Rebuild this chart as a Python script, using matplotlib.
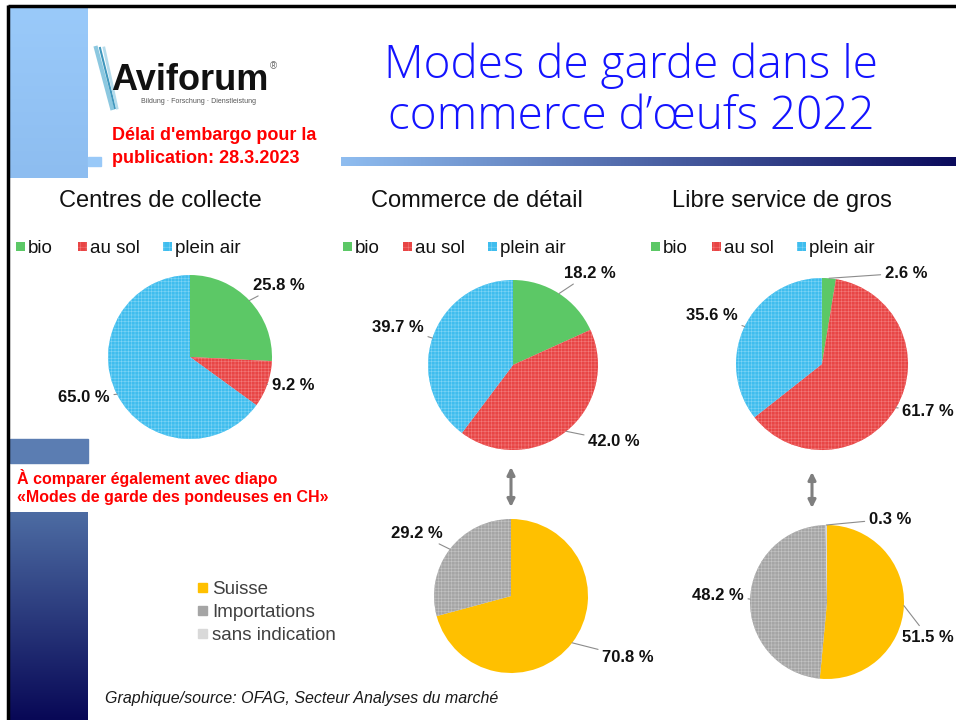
import numpy as np
import matplotlib.pyplot as plt
import matplotlib.colors as mcolors
from matplotlib.patches import Rectangle

plt.rcParams['font.family'] = ['Liberation Sans', 'DejaVu Sans']
plt.rcParams['hatch.linewidth'] = 0.4

# ---- donnees ----
modes = ['bio', 'au sol', 'plein air']
centres_collecte = [25.8, 9.2, 65.0]
commerce_detail = [18.2, 42.0, 39.7]
libre_service_gros = [2.6, 61.7, 35.6]

origines = ['Suisse', 'Importations', 'sans indication']
origine_detail = [70.8, 29.2]
origine_gros = [51.5, 48.2, 0.3]

# ---- couleurs ----
col_modes = ['#5cc866', '#e84545', '#3fbdee']
hatch_modes = [None, '+++++', '+++++']
hcol_modes = [None, '#f27a7a', '#7fd4f5']
col_orig = ['#ffc000', '#a5a5a5', '#d9d9d9']
hatch_orig = [None, '+++++', None]
hcol_orig = [None, '#c4c4c4', None]

W, H = 956, 720
fig = plt.figure(figsize=(9.56, 7.2), dpi=100)
bg = fig.add_axes([0, 0, 1, 1])
bg.axis('off')


def grad(x0, x1, y0, y1, c0, c1, vertical):
    c0 = np.array(mcolors.to_rgb(c0))
    c1 = np.array(mcolors.to_rgb(c1))
    t = np.linspace(0, 1, 256)[:, None]
    cols = c0 + (c1 - c0) * t
    img = cols[:, None, :] if vertical else cols[None, :, :]
    bg.imshow(img, extent=(x0, x1, y1, y0), aspect='auto', interpolation='bilinear', zorder=1)


# bandes decoratives
grad(10, 88, 7, 178, '#9acafa', '#8dbdf0', True)
bg.add_patch(Rectangle((88, 157), 13, 9, color='#99c9f8', zorder=1))
grad(341, 956, 157, 166, '#8fbdf0', '#0b0b5c', False)
bg.add_patch(Rectangle((10, 439), 78, 24, color='#5b7db2', zorder=1))
grad(10, 88, 512, 720, '#4d6ca3', '#080856', True)
# cadre noir
bg.plot([8, 956], [6, 6], color='black', lw=2.5, zorder=3, solid_capstyle='butt')
bg.plot([8.5, 8.5], [5, 720], color='black', lw=2.5, zorder=3, solid_capstyle='butt')

# logo
for (xa, xb, c, lw) in [(96, 112, '#8cc8e0', 3), (100, 115, '#3f97bd', 1.5), (104, 117, '#b5dcec', 2)]:
    bg.plot([xa, xb], [48, 108], color=c, lw=lw, zorder=2)
bg.text(111, 90, 'Aviforum', fontsize=26, fontweight='bold', color='#111111', zorder=3)
bg.text(141, 103, 'Bildung \u00b7 Forschung \u00b7 Dienstleistung', fontsize=5, color='#555555')
bg.text(273, 66, '\u00ae', fontsize=7, color='#666666', ha='center', va='center')

bg.text(112, 140, "Délai d'embargo pour la", fontsize=13, fontweight='bold', color='#ff0000')
bg.text(112, 163, 'publication: 28.3.2023', fontsize=13, fontweight='bold', color='#ff0000')

# titre
bg.text(631, 78, 'Modes de garde dans le', fontsize=33, color='#1414ff', ha='center',
        family=['Open Sans', 'DejaVu Sans'], fontweight='light')
bg.text(631, 129, 'commerce d\u2019œufs 2022', fontsize=33, color='#1414ff', ha='center',
        family=['Open Sans', 'DejaVu Sans'], fontweight='light')

# titres de section et legendes
sections = [('Centres de collecte', 160, [16, 78, 163]),
            ('Commerce de détail', 477, [343, 403, 488]),
            ('Libre service de gros', 782, [651, 712, 797])]
for titre, xc, xs in sections:
    bg.text(xc, 207, titre, fontsize=17, ha='center', color='#111111')
    for x, lab, c, h, hc in zip(xs, modes, col_modes, hatch_modes, hcol_modes):
        sq = Rectangle((x, 242), 9, 9, facecolor=c, edgecolor=hc if hc else c, lw=0, zorder=2)
        if h:
            sq.set_hatch('+++')
        bg.add_patch(sq)
        bg.text(x + 12, 253, lab, fontsize=13.5, color='#111111')

bg.text(17, 484, 'À comparer également avec diapo', fontsize=11.5, fontweight='bold', color='#ff0000')
bg.text(17, 502, '«Modes de garde des pondeuses en CH»', fontsize=11.5, fontweight='bold', color='#ff0000')

for y, lab, c in zip([594, 617, 640], origines, col_orig):
    bg.add_patch(Rectangle((198, y - 11), 9, 9, color=c, zorder=2))
    bg.text(212, y, lab, fontsize=13.5, color='#404040')

bg.text(105, 703, 'Graphique/source: OFAG, Secteur Analyses du marché', fontsize=11.5,
        style='italic', color='#1a1a1a')

# fleches doubles
for x, y0, y1 in [(511, 467, 507), (812, 472, 508)]:
    bg.annotate('', xy=(x, y0), xytext=(x, y1),
                arrowprops=dict(arrowstyle='<|-|>', color='#7f7f7f', lw=2.2, mutation_scale=11,
                                shrinkA=0, shrinkB=0))

bg.set_xlim(0, W)
bg.set_ylim(H, 0)


def draw_pie(cx, cy, r, vals, cols, hatches, hcols, label_pos):
    m = 1.03
    ax = fig.add_axes([(cx - r * m) / W, 1 - (cy + r * m) / H, 2 * r * m / W, 2 * r * m / H])
    wedges, _ = ax.pie(vals, colors=cols, startangle=90, counterclock=False, radius=1,
                       wedgeprops=dict(linewidth=0))
    ax.set_xlim(-m, m)
    ax.set_ylim(-m, m)
    ax.set_aspect('equal')
    ax.axis('off')
    for w, h, hc in zip(wedges, hatches, hcols):
        if h:
            w.set_edgecolor(hc)
            w.set_linewidth(0)
            w.set_hatch(h)
    for w, v, (tx, ty, ha) in zip(wedges, vals, label_pos):
        a = np.deg2rad((w.theta1 + w.theta2) / 2)
        ax.annotate(f'{v:.1f} %', xy=(np.cos(a), np.sin(a)), xytext=(tx, ty),
                    textcoords=bg.transData, ha=ha, va='center',
                    fontsize=12, fontweight='bold', color='#111111',
                    arrowprops=dict(arrowstyle='-', color='#8c8c8c', lw=0.8, shrinkA=1, shrinkB=0),
                    annotation_clip=False)


draw_pie(190, 357, 82, centres_collecte, col_modes, hatch_modes, hcol_modes,
         [(279, 285, 'center'), (293, 385, 'center'), (84, 398, 'center')])
draw_pie(513, 365, 85, commerce_detail, col_modes, hatch_modes, hcol_modes,
         [(590, 273, 'center'), (614, 441, 'center'), (398, 327, 'center')])
draw_pie(822, 364, 86, libre_service_gros, col_modes, hatch_modes, hcol_modes,
         [(906, 273, 'center'), (954, 411, 'right'), (712, 315, 'center')])
draw_pie(511, 596, 77, origine_detail, col_orig, hatch_orig, hcol_orig,
         [(628, 657, 'center'), (417, 533, 'center')])
draw_pie(827, 602, 77, origine_gros, col_orig, hatch_orig, hcol_orig,
         [(954, 637, 'right'), (718, 595, 'center'), (890, 519, 'center')])

fig.savefig('out.png', dpi=100)
